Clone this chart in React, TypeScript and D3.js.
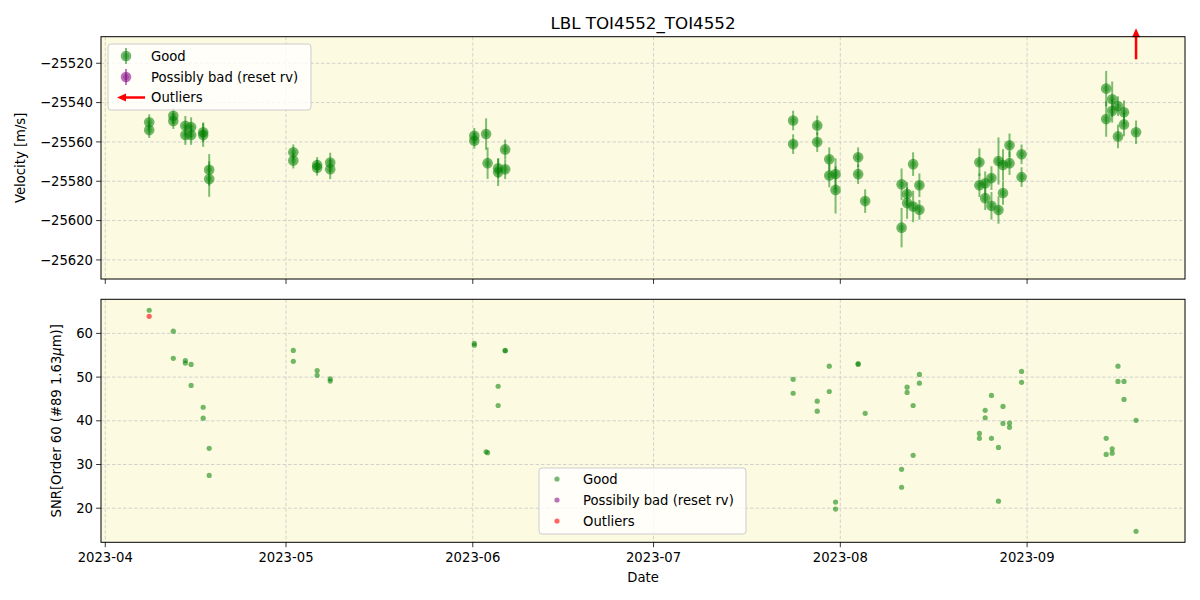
import React from "react";
import * as d3 from "d3";

// ---------- data ----------
const rvDates = [
  "2023-04-08T07", "2023-04-08T07", "2023-04-12T07", "2023-04-12T07", "2023-04-14T07", "2023-04-14T07",
  "2023-04-15T06", "2023-04-15T06", "2023-04-17T06", "2023-04-17T06", "2023-04-18T06", "2023-04-18T06",
  "2023-05-02T05", "2023-05-02T05", "2023-05-06T04", "2023-05-06T04", "2023-05-08T08", "2023-05-08T08",
  "2023-06-01T06", "2023-06-01T06", "2023-06-03T05", "2023-06-03T11", "2023-06-05T05", "2023-06-05T05",
  "2023-06-06T09", "2023-06-06T09", "2023-07-24T04", "2023-07-24T04", "2023-07-28T04", "2023-07-28T04",
  "2023-07-30T04", "2023-07-30T04", "2023-07-31T05", "2023-07-31T05", "2023-08-03T23", "2023-08-03T23",
  "2023-08-05T03", "2023-08-11T04", "2023-08-11T04", "2023-08-12T02", "2023-08-12T02", "2023-08-13T02",
  "2023-08-13T02", "2023-08-14T03", "2023-08-14T03", "2023-08-24T02", "2023-08-24T02", "2023-08-25T01",
  "2023-08-25T01", "2023-08-26T02", "2023-08-26T02", "2023-08-27T06", "2023-08-27T06", "2023-08-28T00",
  "2023-08-28T00", "2023-08-29T02", "2023-08-29T02", "2023-08-31T02", "2023-08-31T02", "2023-09-14T03",
  "2023-09-14T03", "2023-09-15T03", "2023-09-15T03", "2023-09-16T02", "2023-09-16T02", "2023-09-17T02",
  "2023-09-17T02", "2023-09-19T02",
];
const rvValues = [
  -25550.0, -25554.0, -25546.7, -25549.4, -25551.8, -25556.5,
  -25552.5, -25556.5, -25555.1, -25556.5, -25574.2, -25578.9,
  -25565.3, -25569.5, -25571.7, -25573.1, -25570.5, -25573.9,
  -25556.9, -25559.4, -25556.0, -25570.8, -25573.4, -25575.4,
  -25563.8, -25573.9, -25549.1, -25561.1, -25551.6, -25560.1,
  -25568.8, -25577.1, -25576.3, -25584.4, -25567.8, -25576.4,
  -25590.1, -25581.5, -25603.6, -25586.5, -25591.1, -25571.3,
  -25592.8, -25582.0, -25594.5, -25570.3, -25582.0, -25581.0,
  -25588.6, -25578.4, -25592.5, -25569.7, -25594.6, -25571.7,
  -25586.0, -25561.7, -25570.8, -25566.3, -25577.9, -25532.9,
  -25548.4, -25538.3, -25544.2, -25541.8, -25557.2, -25544.9,
  -25551.1, -25555.1,
];
const rvErrors = [
  4, 4, 4, 4, 5, 5,
  5, 5, 5, 6, 8, 9,
  4, 4, 4, 4, 5, 5,
  4, 4, 8, 8, 5, 7,
  5, 5, 5, 5, 5, 5,
  6, 6, 8, 12, 5, 5,
  6, 8, 10, 6, 8, 6,
  8, 6, 5, 7, 6, 6,
  6, 6, 7, 12, 7, 8,
  6, 6, 6, 5, 5, 9,
  9, 9, 6, 5, 6, 6,
  6, 6,
];

const snrDates = [
  "2023-04-08T07", "2023-04-12T07", "2023-04-12T07", "2023-04-14T07", "2023-04-14T07",
  "2023-04-15T06", "2023-04-15T06", "2023-04-17T06", "2023-04-17T06", "2023-04-18T06", "2023-04-18T06",
  "2023-05-02T05", "2023-05-02T05", "2023-05-06T04", "2023-05-06T04", "2023-05-08T08", "2023-05-08T08",
  "2023-06-01T06", "2023-06-01T06", "2023-06-03T05", "2023-06-03T11", "2023-06-05T05", "2023-06-05T05",
  "2023-06-06T09", "2023-06-06T09", "2023-07-24T04", "2023-07-24T04", "2023-07-28T04", "2023-07-28T04",
  "2023-07-30T04", "2023-07-30T04", "2023-07-31T05", "2023-07-31T05", "2023-08-03T23", "2023-08-03T23",
  "2023-08-05T03", "2023-08-11T04", "2023-08-11T04", "2023-08-12T02", "2023-08-12T02", "2023-08-13T02",
  "2023-08-13T02", "2023-08-14T03", "2023-08-14T03", "2023-08-24T02", "2023-08-24T02", "2023-08-25T01",
  "2023-08-25T01", "2023-08-26T02", "2023-08-26T02", "2023-08-27T06", "2023-08-27T06", "2023-08-28T00",
  "2023-08-28T00", "2023-08-29T02", "2023-08-29T02", "2023-08-31T02", "2023-08-31T02", "2023-09-14T03",
  "2023-09-14T03", "2023-09-15T03", "2023-09-15T03", "2023-09-16T02", "2023-09-16T02", "2023-09-17T02",
  "2023-09-17T02", "2023-09-19T02", "2023-09-19T02",
];
const snrValues = [
  65.3, 60.5, 54.3, 53.8, 53.2,
  52.9, 48.1, 43.1, 40.6, 33.7, 27.5,
  56.1, 53.6, 51.5, 50.4, 49.6, 49.1,
  57.7, 57.3, 32.9, 32.7, 47.9, 43.5,
  56.1, 56.0, 49.5, 46.3, 44.5, 42.2,
  52.5, 46.7, 21.4, 19.8, 53.1, 52.9,
  41.7, 28.9, 24.8, 47.7, 46.5, 43.5,
  32.1, 50.6, 48.6, 37.1, 36.0, 42.4,
  40.7, 45.8, 36.0, 33.9, 21.6, 43.3,
  39.4, 39.5, 38.5, 51.3, 48.8, 36.0,
  32.3, 33.6, 32.6, 52.5, 49.0, 49.0,
  44.9, 40.1, 14.7,
];
const outlierSnrDates = ["2023-04-08T07"];
const outlierSnrValues = [63.9];
const outlierArrowDates = ["2023-09-19T02"];
const outlierArrowValues = [-25518];

const rvTicks = [-25620, -25600, -25580, -25560, -25540, -25520];
const snrTicks = [20, 30, 40, 50, 60];
const xDomain = ["2023-03-31T07", "2023-09-27T05"];
const rvDomain = [-25629.7, -25506.5];
const snrDomain = [12.2, 67.8];

// ---------- layout ----------
const W = 1200, H = 600;
const L = 101, R = 1185;
const top1 = 36.7, bot1 = 279;
const top2 = 299.3, bot2 = 542.3;
const BG = "#fcfbe1";
const GREEN = "#008000";
const FONT = "DejaVu Sans, sans-serif";

const parse = d3.utcParse("%Y-%m-%dT%H");

export default function App() {
  const x = d3.scaleUtc().domain(xDomain.map((d) => parse(d)!)).range([L, R]);
  const y1 = d3.scaleLinear().domain(rvDomain).range([bot1, top1]);
  const y2 = d3.scaleLinear().domain(snrDomain).range([bot2, top2]);
  const xTicks = x.ticks(d3.utcMonth.every(1)!).filter((t) => x(t) >= L && x(t) <= R);
  const fmt = d3.utcFormat("%Y-%m");

  const grid = { stroke: "#c8c8c8", strokeWidth: 0.8, strokeDasharray: "3.5,2" };

  const xGrid = (yt: number, yb: number) =>
    xTicks.map((t, i) => <line key={"xg" + i} x1={x(t)} x2={x(t)} y1={yt} y2={yb} {...grid} />);
  const xTickMarks = (yb: number) =>
    xTicks.map((t, i) => <line key={"xt" + i} x1={x(t)} x2={x(t)} y1={yb} y2={yb + 4.9} stroke="#000" strokeWidth={0.8} />);

  return (
    <svg width={W} height={H} style={{ display: "block", position: "absolute", left: 0, top: 0 }} fontFamily={FONT}>
      <rect x={0} y={0} width={W} height={H} fill="#fff" />
      <text x={(L + R) / 2} y={29} textAnchor="middle" fontSize={16.7}>LBL TOI4552_TOI4552</text>

      {/* ---------- top panel ---------- */}
      <rect x={L} y={top1} width={R - L} height={bot1 - top1} fill={BG} />
      {xGrid(top1, bot1)}
      {rvTicks.map((v, i) => (
        <line key={"yg1" + i} x1={L} x2={R} y1={y1(v)} y2={y1(v)} {...grid} />
      ))}
      {rvValues.map((v, i) => {
        const cx = x(parse(rvDates[i])!);
        return (
          <g key={"rv" + i}>
            <line x1={cx} x2={cx} y1={y1(v - rvErrors[i])} y2={y1(v + rvErrors[i])} stroke={GREEN} strokeOpacity={0.5} strokeWidth={2} />
            <circle cx={cx} cy={y1(v)} r={5.3} fill={GREEN} fillOpacity={0.55} />
            <circle cx={cx} cy={y1(v)} r={3} fill={GREEN} fillOpacity={0.3} />
          </g>
        );
      })}
      {outlierArrowValues.map((v, i) => {
        const cx = x(parse(outlierArrowDates[i])!);
        const yb = y1(v);
        const yt = yb - 31;
        return (
          <g key={"oa" + i}>
            <line x1={cx} x2={cx} y1={yb} y2={yt + 8} stroke="red" strokeWidth={2.5} />
            <path d={`M${cx - 4},${yt + 9} L${cx},${yt} L${cx + 4},${yt + 9} Z`} fill="red" />
          </g>
        );
      })}
      <rect x={L} y={top1} width={R - L} height={bot1 - top1} fill="none" stroke="#000" strokeWidth={1} />
      {xTickMarks(bot1)}
      {rvTicks.map((v, i) => (
        <g key={"yt1" + i}>
          <line x1={L - 4.9} x2={L} y1={y1(v)} y2={y1(v)} stroke="#000" strokeWidth={0.8} />
          <text x={L - 8} y={y1(v)} dy="0.35em" textAnchor="end" fontSize={13.2}>{"\u2212" + Math.abs(v)}</text>
        </g>
      ))}
      <text transform={`translate(25,${(top1 + bot1) / 2}) rotate(-90)`} textAnchor="middle" fontSize={13.2}>Velocity [m/s]</text>

      {/* top legend */}
      <g>
        <rect x={108} y={44} width={203} height={66} rx={3} fill="#fff" fillOpacity={0.8} stroke="#cccccc" strokeWidth={1} />
        <line x1={126} x2={126} y1={48} y2={64} stroke={GREEN} strokeOpacity={0.5} strokeWidth={2} />
        <circle cx={126} cy={56} r={5.3} fill={GREEN} fillOpacity={0.55} />
        <circle cx={126} cy={56} r={3} fill={GREEN} fillOpacity={0.3} />
        <text x={151} y={56} dy="0.35em" fontSize={13.2}>Good</text>
        <line x1={126} x2={126} y1={69} y2={85} stroke="purple" strokeOpacity={0.5} strokeWidth={2} />
        <circle cx={126} cy={77} r={5.3} fill="purple" fillOpacity={0.55} />
        <circle cx={126} cy={77} r={3} fill="purple" fillOpacity={0.3} />
        <text x={151} y={77} dy="0.35em" fontSize={13.2}>Possibly bad (reset rv)</text>
        <line x1={145} x2={124} y1={97.5} y2={97.5} stroke="red" strokeWidth={2.5} />
        <path d="M126,93.5 L117,97.5 L126,101.5 Z" fill="red" />
        <text x={151} y={97.5} dy="0.35em" fontSize={13.2}>Outliers</text>
      </g>

      {/* ---------- bottom panel ---------- */}
      <rect x={L} y={top2} width={R - L} height={bot2 - top2} fill={BG} />
      {xGrid(top2, bot2)}
      {snrTicks.map((v, i) => (
        <line key={"yg2" + i} x1={L} x2={R} y1={y2(v)} y2={y2(v)} {...grid} />
      ))}
      {snrValues.map((v, i) => (
        <circle key={"s" + i} cx={x(parse(snrDates[i])!)} cy={y2(v)} r={2.6} fill={GREEN} fillOpacity={0.55} />
      ))}
      {outlierSnrValues.map((v, i) => (
        <circle key={"os" + i} cx={x(parse(outlierSnrDates[i])!)} cy={y2(v)} r={2.6} fill="red" fillOpacity={0.6} />
      ))}
      <rect x={L} y={top2} width={R - L} height={bot2 - top2} fill="none" stroke="#000" strokeWidth={1} />
      {xTickMarks(bot2)}
      {xTicks.map((t, i) => (
        <text key={"xl" + i} x={x(t)} y={bot2 + 20} textAnchor="middle" fontSize={13.2}>{fmt(t)}</text>
      ))}
      {snrTicks.map((v, i) => (
        <g key={"yt2" + i}>
          <line x1={L - 4.9} x2={L} y1={y2(v)} y2={y2(v)} stroke="#000" strokeWidth={0.8} />
          <text x={L - 8} y={y2(v)} dy="0.35em" textAnchor="end" fontSize={13.2}>{v}</text>
        </g>
      ))}
      <text transform={`translate(61,${(top2 + bot2) / 2}) rotate(-90)`} textAnchor="middle" fontSize={13.2}>
        SNR[Order 60 (#89 1.63<tspan fontStyle="italic">μ</tspan>m)]
      </text>
      <text x={(L + R) / 2} y={582} textAnchor="middle" fontSize={13.2}>Date</text>

      {/* bottom legend */}
      <g>
        <rect x={539} y={468} width={207} height={66} rx={3} fill="#fff" fillOpacity={0.8} stroke="#cccccc" strokeWidth={1} />
        <circle cx={557} cy={479} r={2.6} fill={GREEN} fillOpacity={0.55} />
        <text x={583} y={479} dy="0.35em" fontSize={13.2}>Good</text>
        <circle cx={557} cy={500} r={2.6} fill="purple" fillOpacity={0.55} />
        <text x={583} y={500} dy="0.35em" fontSize={13.2}>Possibily bad (reset rv)</text>
        <circle cx={557} cy={521} r={2.6} fill="red" fillOpacity={0.6} />
        <text x={583} y={521} dy="0.35em" fontSize={13.2}>Outliers</text>
      </g>
    </svg>
  );
}
